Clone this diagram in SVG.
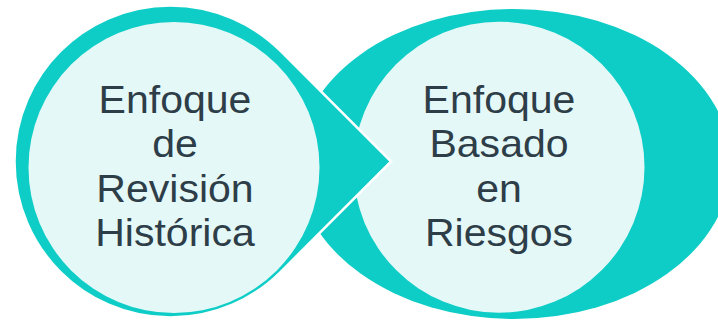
<svg xmlns="http://www.w3.org/2000/svg" width="718" height="320" viewBox="0 0 718 320">
  <style>
    .outer { fill: #0ECDC6; }
    .inner { fill: #E5F8F8; }
    .label { font-family: "Liberation Sans", Arial, sans-serif; font-size: 38px; fill: #2E3E48; text-anchor: middle; }
  </style>
  <rect width="718" height="320" fill="#FFFFFF"/>

  <!-- Right node: wide ellipse with a light circle inside -->
  <g id="node-riesgos">
    <ellipse class="outer" cx="514" cy="164" rx="217" ry="155"/>
    <circle class="inner" cx="499" cy="167.2" r="145.5"/>
    <g transform="translate(499 0) scale(1.08 1)">
      <text class="label" x="0" y="112.7">Enfoque</text>
      <text class="label" x="0" y="157.2">Basado</text>
      <text class="label" x="0" y="201.7">en</text>
      <text class="label" x="0" y="246.2">Riesgos</text>
    </g>
  </g>

  <!-- Left node: circle drawn out into a point on its right side -->
  <g id="node-historica">
    <path class="outer" stroke="#FFFFFF" stroke-width="2.5" stroke-linejoin="miter"
          d="M 280.8 51.2 L 391.1 161.5 L 280.8 271.8 A 156 156 0 1 1 280.8 51.2 Z"/>
    <circle class="inner" cx="174" cy="167.5" r="145.5"/>
    <g transform="translate(175 0) scale(1.08 1)">
      <text class="label" x="0" y="112.7">Enfoque</text>
      <text class="label" x="0" y="157.2">de</text>
      <text class="label" x="0" y="201.7">Revisión</text>
      <text class="label" x="0" y="246.2">Histórica</text>
    </g>
  </g>
</svg>
